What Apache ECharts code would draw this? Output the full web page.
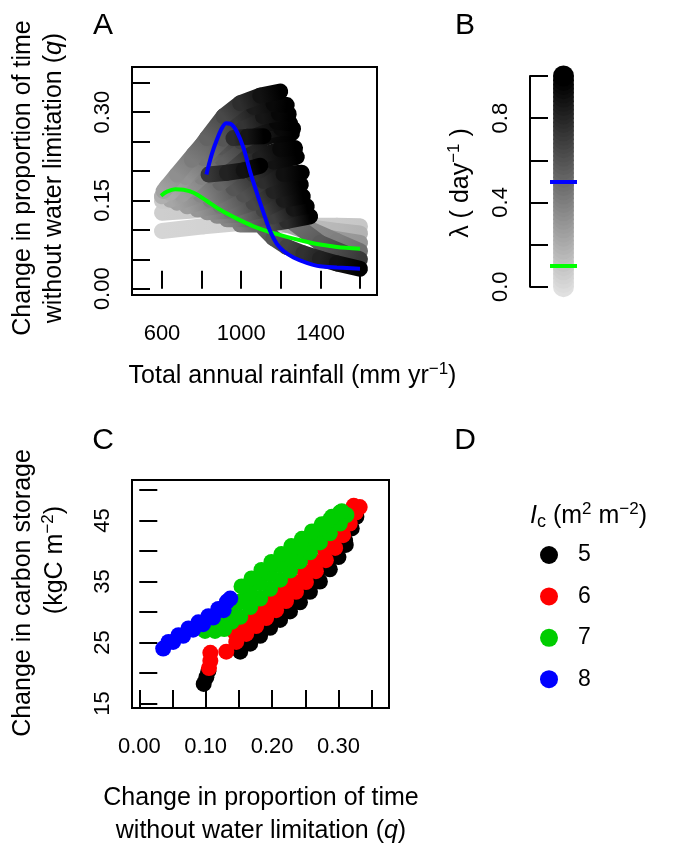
<!DOCTYPE html>
<html><head><meta charset="utf-8">
<script src="https://cdn.jsdelivr.net/npm/echarts@6/dist/echarts.min.js"></script>
<style>html,body{margin:0;padding:0;background:#fff}#c{width:679px;height:849px}</style>
</head><body><div id="c"></div>
<script>
// ---------- Panel A: q vs total annual rainfall, dots coloured by lambda ----------
const rainA = [
 [600,810,978,1146,1314,1483,1600],
 [600,810,978,1146,1314,1483,1600],
 [600,726,894,1062,1230,1398,1600],
 [600,684,810,978,1146,1314,1483,1600],
 [625,726,861,995,1130,1264,1398,1600],
 [1113,1163,1230,1314,1398,1483,1600],
 [995,1113,1230,1348],
 [928,1045,1163,1264,1331],
 [877,995,1113,1214,1311],
 [827,945,1062,1163,1301],
 [777,894,1012,1113,1214,1306],
 [726,844,961,1062,1163,1281],
 [676,793,894,995,1096,1197,1272],
 [642,743,844,945,1045,1146,1256],
 [700,800,900,1000,1100,1200,1262],
 [600,692,793,894,995,1096,1180,1247],
 [640,720,810,910,1010,1110,1190,1240],
 [608,676,760,861,961,1062,1163,1230],
 [751,827,911,995,1096,1197],
 [835,928,1012,1096],
 [961,1029,1113]
];
const qA = [
 [0.098,0.106,0.111,0.109,0.107,0.107,0.106],
 [0.129,0.134,0.132,0.120,0.106,0.098,0.094],
 [0.149,0.154,0.149,0.132,0.109,0.089,0.078],
 [0.157,0.166,0.168,0.157,0.134,0.106,0.081,0.064],
 [0.174,0.188,0.191,0.177,0.151,0.112,0.078,0.050],
 [0.103,0.086,0.071,0.060,0.051,0.043,0.034],
 [0.109,0.109,0.115,0.123],
 [0.118,0.118,0.123,0.136,0.140],
 [0.124,0.126,0.134,0.151,0.157],
 [0.130,0.133,0.146,0.166,0.177],
 [0.135,0.141,0.160,0.183,0.195,0.197],
 [0.140,0.151,0.171,0.194,0.216,0.224],
 [0.146,0.160,0.180,0.205,0.225,0.237,0.239],
 [0.151,0.167,0.192,0.219,0.243,0.260,0.264],
 [0.160,0.190,0.222,0.250,0.266,0.273,0.272],
 [0.157,0.179,0.209,0.241,0.266,0.279,0.283,0.281],
 [0.163,0.190,0.222,0.255,0.280,0.293,0.298,0.297],
 [0.166,0.194,0.228,0.267,0.294,0.309,0.314,0.312],
 [0.219,0.256,0.293,0.315,0.328,0.335],
 [0.194,0.197,0.201,0.209],
 [0.256,0.258,0.259]
];
const lamA = [
 [0.05,0.06,0.07,0.08,0.09,0.10,0.11],
 [0.08,0.10,0.12,0.14,0.16,0.18,0.20],
 [0.10,0.13,0.17,0.21,0.25,0.29,0.33],
 [0.12,0.15,0.19,0.25,0.31,0.37,0.43,0.50],
 [0.15,0.19,0.25,0.32,0.40,0.50,0.60,0.75],
 [0.55,0.62,0.70,0.78,0.85,0.92,1.00],
 [0.45,0.60,0.80,1.00],
 [0.40,0.55,0.72,0.90,1.00],
 [0.38,0.52,0.70,0.88,1.00],
 [0.36,0.50,0.68,0.85,1.00],
 [0.33,0.47,0.64,0.80,0.93,1.00],
 [0.30,0.44,0.62,0.78,0.92,1.00],
 [0.28,0.40,0.55,0.72,0.86,0.96,1.00],
 [0.26,0.37,0.52,0.68,0.83,0.95,1.00],
 [0.30,0.42,0.57,0.72,0.86,0.96,1.00],
 [0.22,0.32,0.46,0.62,0.78,0.90,0.97,1.00],
 [0.25,0.35,0.48,0.62,0.77,0.90,0.97,1.00],
 [0.28,0.36,0.47,0.60,0.75,0.88,0.96,1.00],
 [0.45,0.56,0.68,0.80,0.92,1.00],
 [0.75,0.85,0.92,1.00],
 [0.80,0.90,1.00]
];
// lambda = 0.5 (blue) and lambda = 0.1 (green) curves
const blueRain = [824,852,877,903,924,948,978,1012,1045,1079,1113,1146,1180,1214,1264,1331,1398,1483,1600];
const blueQ = [0.194,0.229,0.253,0.273,0.281,0.280,0.267,0.239,0.199,0.163,0.129,0.098,0.076,0.064,0.053,0.044,0.038,0.036,0.034];
const greenRain = [595,625,667,709,760,827,894,978,1062,1146,1230,1314,1398,1483,1600];
const greenQ = [0.158,0.165,0.169,0.168,0.163,0.149,0.134,0.119,0.106,0.096,0.088,0.081,0.075,0.071,0.068];
const rainTicks = [600,800,1000,1200,1400,1600];
const rainLabels = [600,1000,1400];
const qTicksA = [0,0.05,0.10,0.15,0.20,0.25,0.30,0.35];
const qLabelsA = [0,0.15,0.30];

// ---------- Panel B: lambda colour bar ----------
const barLambda = [0,0.02,0.04,0.06,0.08,0.10,0.12,0.14,0.16,0.18,0.20,0.22,0.24,0.26,0.28,0.30,0.32,0.34,0.36,0.38,0.40,0.42,0.44,0.46,0.48,0.50,0.52,0.54,0.56,0.58,0.60,0.62,0.64,0.66,0.68,0.70,0.72,0.74,0.76,0.78,0.80,0.82,0.84,0.86,0.88,0.90,0.92,0.94,0.96,0.98,1.00];
const refLambda = [0.5, 0.1];
const refColors = ['#0000ff', '#00ff00'];
const lambdaTicks = [0,0.2,0.4,0.6,0.8,1.0];
const lambdaLabels = [0,0.4,0.8];

// ---------- Panel C: carbon storage vs q, by Ic ----------
const q5 = [0.097,0.101,0.104,0.152,0.167,0.182,0.197,0.212,0.227,0.242,0.257,0.272,0.287,0.300,0.311,0.162,0.177,0.192,0.207,0.222,0.237,0.252,0.267,0.282,0.297,0.310,0.320,0.327];
const c5 = [18.2,19.3,20.3,23.5,24.8,26.1,27.4,28.7,30.1,31.6,33.3,35.0,37.0,39.0,41.0,25.1,26.5,27.9,29.2,30.8,32.4,34.0,35.8,37.7,39.7,41.7,43.7,45.6];
const q6 = [0.107,0.107,0.105,0.131,0.146,0.161,0.176,0.191,0.206,0.221,0.236,0.251,0.266,0.281,0.295,0.307,0.317,0.326,0.332,0.143,0.158,0.173,0.188,0.203,0.218,0.233,0.249,0.264,0.279,0.292,0.305,0.315,0.323];
const c6 = [23.3,22.0,20.8,23.5,25.1,26.4,27.7,29.0,30.3,31.8,33.3,34.9,36.7,38.5,40.5,42.6,44.5,46.3,47.2,26.8,28.0,29.3,30.7,32.0,33.4,34.9,36.6,38.3,40.2,42.1,44.2,45.9,47.4];
const q7 = [0.099,0.114,0.128,0.139,0.124,0.152,0.167,0.182,0.197,0.212,0.227,0.242,0.257,0.272,0.287,0.302,0.312,0.137,0.152,0.167,0.182,0.197,0.212,0.227,0.242,0.257,0.272,0.287,0.302,0.154,0.169,0.184,0.199,0.214,0.229,0.245,0.260,0.275,0.290,0.305];
const c7 = [26.9,26.9,27.2,28.4,29.0,29.2,30.8,32.2,33.8,35.3,36.8,38.3,39.8,41.4,42.9,44.5,45.9,30.3,31.7,33.2,34.7,36.2,37.7,39.2,40.7,42.2,43.7,45.1,46.3,34.2,35.5,36.9,38.2,39.5,40.8,42.0,43.2,44.4,45.6,46.5];
const q8 = [0.036,0.051,0.066,0.081,0.096,0.111,0.127,0.044,0.059,0.074,0.089,0.104,0.119,0.132,0.137];
const c8 = [24.0,25.1,26.1,27.1,28.0,29.1,30.3,25.1,26.2,27.3,28.3,29.3,30.5,31.7,32.2];
const icNames = ['5','6','7','8'];
const icColors = ['#000000','#ff0000','#00cd00','#0000ff'];
const qTicksC = [0,0.05,0.10,0.15,0.20,0.25,0.30,0.35];
const qLabelsC = [0,0.10,0.20,0.30];
const carbonTicks = [15,20,25,30,35,40,45,50];
const carbonLabels = [15,25,35,45];

// ---------- build ----------
const FF = '"Liberation Sans", Arial, Helvetica, sans-serif';
function greyOf(l){ const g = Math.round(224*(1-l)); return 'rgb('+g+','+g+','+g+')'; }
const segData = [];
rainA.forEach((rs,k)=>{ for(let i=0;i<rs.length-1;i++){ segData.push([rs[i],qA[k][i],rs[i+1],qA[k][i+1],lamA[k][i],lamA[k][i+1]]); } });
const zip = (a,b)=>a.map((v,i)=>[v,b[i]]);

const tickStyle = {lineStyle:{color:'#000',width:2}};
function valAxis(grid, min, max, ticks, labels, fmt, extra){
  return Object.assign({
    type:'value', gridIndex:grid, min:min, max:max, splitLine:{show:false},
    axisLine:{show:false},
    axisTick:Object.assign({show:true, inside:true, length:18, customValues:ticks}, tickStyle),
    axisLabel:{customValues:labels, formatter:fmt, color:'#000', fontSize:22, fontFamily:FF, margin:28, hideOverlap:false}
  }, extra||{});
}

const chart = echarts.init(document.getElementById('c'), null, {renderer:'canvas'});
const yA = valAxis(0, -0.0107, 0.3767, qTicksA, qLabelsA, v=>v.toFixed(2));
yA.axisLabel.rotate = 90; yA.axisLabel.margin = 18;
const yB = valAxis(1, 0, 1, lambdaTicks, lambdaLabels, v=>v.toFixed(1), {offset:20, axisLine:{show:true, lineStyle:{color:'#000',width:2}}});
yB.axisLabel.rotate = 90; yB.axisLabel.margin = 18;
const yC = valAxis(2, 14.26, 51.64, carbonTicks, carbonLabels, v=>String(v));
yC.axisLabel.rotate = 90; yC.axisLabel.margin = 18;

const option = {
  animation:false,
  backgroundColor:'#fff',
  textStyle:{fontFamily:FF},
  grid:[
    {left:132, top:67, width:245, height:228, show:true, borderColor:'#000', borderWidth:2, backgroundColor:'transparent'},
    {left:550, top:76, width:27, height:210.7},
    {left:132, top:480, width:257, height:228, show:true, borderColor:'#000', borderWidth:2, backgroundColor:'transparent'}
  ],
  xAxis:[
    valAxis(0, 448.5, 1685.9, rainTicks, rainLabels, v=>String(v)),
    {type:'category', gridIndex:1, data:['λ'], show:false},
    valAxis(2, -0.011, 0.3761, qTicksC, qLabelsC, v=>v.toFixed(2))
  ],
  yAxis:[yA, yB, yC],
  legend:{
    data:icNames, orient:'vertical', left:535, top:538, itemWidth:18, itemHeight:18, itemGap:17.4,
    icon:'circle', selectedMode:false,
    textStyle:{fontSize:23, color:'#000', fontFamily:FF, padding:[0,0,0,15], lineHeight:24}
  },
  series:[
    {type:'custom', xAxisIndex:0, yAxisIndex:0, data:segData, encode:{x:[0,2], y:[1,3]},
     renderItem:function(params, api){
       const p1 = api.coord([api.value(0), api.value(1)]);
       const p2 = api.coord([api.value(2), api.value(3)]);
       return {type:'line', shape:{x1:p1[0],y1:p1[1],x2:p2[0],y2:p2[1]},
         style:{stroke:new echarts.graphic.LinearGradient(p1[0],p1[1],p2[0],p2[1],
           [{offset:0,color:greyOf(api.value(4))},{offset:1,color:greyOf(api.value(5))}], true),
           lineWidth:16, lineCap:'round', fill:null}};
     }},
    {type:'line', xAxisIndex:0, yAxisIndex:0, data:zip(greenRain, greenQ), showSymbol:false, smooth:0.3,
     lineStyle:{color:'#00ff00', width:4}, z:3},
    {type:'line', xAxisIndex:0, yAxisIndex:0, data:zip(blueRain, blueQ), showSymbol:false, smooth:0.3,
     lineStyle:{color:'#0000ff', width:4}, z:4},
    {type:'scatter', xAxisIndex:1, yAxisIndex:1, data:barLambda.map(l=>['λ', l]), symbolSize:21,
     itemStyle:{color:p=>greyOf(p.value[1]), opacity:1},
     markLine:{silent:true, symbol:'none', label:{show:false},
       data:refLambda.map((l,i)=>({yAxis:l, lineStyle:{color:refColors[i], width:4, type:'solid'}}))}},
    {name:icNames[0], type:'scatter', xAxisIndex:2, yAxisIndex:2, data:zip(q5,c5), symbolSize:16, itemStyle:{color:icColors[0], opacity:1}},
    {name:icNames[1], type:'scatter', xAxisIndex:2, yAxisIndex:2, data:zip(q6,c6), symbolSize:16, itemStyle:{color:icColors[1], opacity:1}},
    {name:icNames[2], type:'scatter', xAxisIndex:2, yAxisIndex:2, data:zip(q7,c7), symbolSize:16, itemStyle:{color:icColors[2], opacity:1}},
    {name:icNames[3], type:'scatter', xAxisIndex:2, yAxisIndex:2, data:zip(q8,c8), symbolSize:16, itemStyle:{color:icColors[3], opacity:1}}
  ],
  graphic:[
    {type:'text', x:103, y:26, style:{text:'A', fontSize:30, fontFamily:FF, fill:'#000', align:'center', verticalAlign:'middle'}},
    {type:'text', x:465, y:26, style:{text:'B', fontSize:30, fontFamily:FF, fill:'#000', align:'center', verticalAlign:'middle'}},
    {type:'text', x:103, y:441, style:{text:'C', fontSize:30, fontFamily:FF, fill:'#000', align:'center', verticalAlign:'middle'}},
    {type:'text', x:465, y:441, style:{text:'D', fontSize:30, fontFamily:FF, fill:'#000', align:'center', verticalAlign:'middle'}},
    {type:'text', x:38.5, y:178, rotation:Math.PI/2, style:{text:'Change in proportion of time\nwithout water limitation ({i|q})', fontSize:25, fontFamily:FF, fill:'#000', align:'center', verticalAlign:'middle', lineHeight:31.5,
      rich:{i:{fontStyle:'italic', fontSize:25, fontFamily:FF, lineHeight:31.5}}}},
    {type:'text', x:292.5, y:376, style:{text:'Total annual rainfall (mm yr{s|−1})', fontSize:25, fontFamily:FF, fill:'#000', align:'center', verticalAlign:'middle', lineHeight:30,
      rich:{s:{fontSize:17, fontFamily:FF, verticalAlign:'top', lineHeight:12}}}},
    {type:'text', x:461, y:183, rotation:Math.PI/2, style:{text:'λ ( day{s|−1} )', fontSize:25, fontFamily:FF, fill:'#000', align:'center', verticalAlign:'middle', lineHeight:30,
      rich:{s:{fontSize:17, fontFamily:FF, verticalAlign:'top', lineHeight:12}}}},
    {type:'text', x:23, y:593, rotation:Math.PI/2, style:{text:'Change in carbon storage', fontSize:25, fontFamily:FF, fill:'#000', align:'center', verticalAlign:'middle'}},
    {type:'text', x:55, y:560, rotation:Math.PI/2, style:{text:'(kgC m{s|−2})', fontSize:25, fontFamily:FF, fill:'#000', align:'center', verticalAlign:'middle', lineHeight:30,
      rich:{s:{fontSize:17, fontFamily:FF, verticalAlign:'top', lineHeight:12}}}},
    {type:'text', x:261, y:798, style:{text:'Change in proportion of time', fontSize:25, fontFamily:FF, fill:'#000', align:'center', verticalAlign:'middle'}},
    {type:'text', x:261, y:831, style:{text:'without water limitation ({i|q})', fontSize:25, fontFamily:FF, fill:'#000', align:'center', verticalAlign:'middle',
      rich:{i:{fontStyle:'italic', fontSize:25, fontFamily:FF}}}},
    {type:'text', x:530, y:516, style:{text:'{i|I}{c|c} (m{s|2} m{s|−2})', fontSize:25, fontFamily:FF, fill:'#000', align:'left', verticalAlign:'middle', lineHeight:30,
      rich:{i:{fontStyle:'italic', fontSize:25, fontFamily:FF}, c:{fontSize:18, fontFamily:FF, verticalAlign:'bottom', lineHeight:22}, s:{fontSize:17, fontFamily:FF, verticalAlign:'top', lineHeight:12}}}}
  ]
};
chart.setOption(option);
</script></body></html>
